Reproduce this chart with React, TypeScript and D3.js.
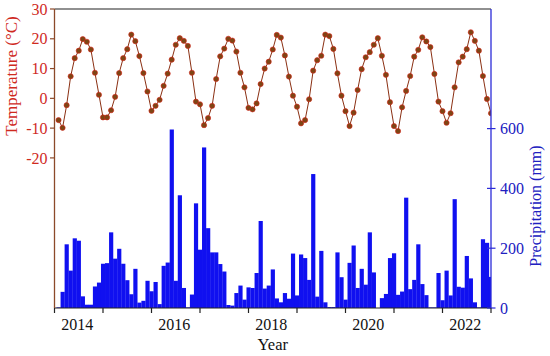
import React from "react";
import * as d3 from "d3";

// Monthly series, index 1..108 (2014–2022)
const temperature: number[] = [
  -7.3, -9.9, -2.3, 7.4, 13.5, 16, 19.9, 19, 16.4, 8.6, 1.2, -6.4,
  -6.4, -4, 0.5, 8.5, 13.5, 16.5, 21.4, 19.2, 14.2, 8.5, 2.3, -4.2,
  -2.5, -0.5, 4.2, 8.3, 13, 18, 20.2, 19.3, 17.6, 8.6, -1.1, -2,
  -9, -6.6, -2.5, 6.5, 14.1, 16.7, 20, 19.4, 15.7, 8.6, 3.7, -3.2,
  -3.7, -1.7, 4.8, 10, 12.3, 16.4, 21.3, 20.4, 14.4, 7.3, 0.9, -2.8,
  -8.4, -7.3, -0.3, 9.3, 12.8, 14.3, 21.4, 20.9, 16.6, 8.4, 0.9, -4.3,
  -9.3, -4.8, 2.8, 9.8, 13.8, 15.5, 18, 20.2, 14.3, 7.9, -1.3, -9.3,
  -11, -3, 2.5, 7.5, 14, 16.3, 20.5, 19.1, 17.2, 8.2, -1.1, -4.3,
  -8.2, -5, 3.7, 12.1, 14, 16.5, 22.2, 19.3, 16, 7.5, -0.2, -5,
];

const precipitation: number[] = [
  2, 54, 213, 125, 233, 225, 39, 11, 11, 72, 85, 148,
  150, 253, 165, 198, 148, 93, 46, 131, 18, 24, 91, 56,
  87, 13, 141, 152, 597, 91, 377, 67, 2, 45, 350, 195,
  537, 267, 186, 186, 147, 122, 10, 8, 50, 75, 28, 69,
  67, 117, 291, 65, 75, 129, 32, 19, 50, 31, 182, 42,
  179, 167, 94, 448, 38, 191, 19, 3, 3, 186, 103, 28,
  151, 209, 67, 131, 78, 253, 119, 0, 33, 47, 167, 183,
  44, 55, 369, 63, 94, 213, 80, 43, 2, 2, 117, 26,
  125, 42, 364, 71, 68, 174, 99, 19, 2, 230, 218, 104,
];

const yearTicks: number[] = [0, 12, 24, 36, 48, 60, 72, 84, 96, 108];
const yearLabels: string[] = ["2014", "2016", "2018", "2020", "2022"];
const tempTicks: number[] = [30, 20, 10, 0, -10, -20];
const precTicks: number[] = [0, 200, 400, 600];

const W = 550;
const H = 356;
const L = 54.5;
const R = 491;
const T = 9;
const B = 308;

const FONT = '"Times New Roman", "Liberation Serif", Times, serif';

export default function App() {
  const x = d3.scaleLinear().domain([0, 108]).range([L, R]);
  const yT = d3.scaleLinear().domain([-70.4, 30]).range([B, T]);
  const yP = d3.scaleLinear().domain([0, 1000]).range([B, T]);
  const bw = x(1) - x(0);

  const months = temperature.map((_, i) => i + 1);
  const line = d3
    .line<number>()
    .x((m) => x(m))
    .y((m) => yT(temperature[m - 1]));

  const textRed = "#cf2a1e";
  const axisBrown = "#8c4a2a";
  const blue = "#1010f0";
  const textBlue = "#2020c0";

  return (
    <svg
      width={W}
      height={H}
      style={{ position: "absolute", left: 0, top: 0, background: "#fff", fontFamily: FONT }}
    >
      <defs>
        <clipPath id="plot">
          <rect x={L} y={T} width={R - L} height={B - T} />
        </clipPath>
      </defs>
      <rect x={0} y={0} width={W} height={H} fill="#fff" />

      {/* precipitation bars */}
      <g clipPath="url(#plot)">
        {precipitation.map((p, i) => {
          const m = i + 1;
          return (
            <rect
              key={m}
              x={x(m) - bw / 2}
              y={yP(p)}
              width={bw + 0.15}
              height={B - yP(p)}
              fill={blue}
            />
          );
        })}
      </g>

      {/* temperature line */}
      <g clipPath="url(#plot)">
        <path d={line(months) || ""} fill="none" stroke="#8a2f12" strokeWidth={1} />
        {months.map((m) => (
          <circle
            key={m}
            cx={x(m)}
            cy={yT(temperature[m - 1])}
            r={2.6}
            fill="#7e4514"
            stroke="#d8231a"
            strokeWidth={0.6}
          />
        ))}
      </g>

      {/* frame: top, bottom */}
      <line x1={L} x2={R} y1={T} y2={T} stroke="#222" strokeWidth={1.2} />
      <line x1={L} x2={R} y1={B} y2={B} stroke="#222" strokeWidth={1.2} />

      {/* left axis */}
      <line x1={L} x2={L} y1={T} y2={B} stroke={axisBrown} strokeWidth={1.3} />
      {tempTicks.map((t) => (
        <g key={t}>
          <line x1={L - 4.5} x2={L} y1={yT(t)} y2={yT(t)} stroke={axisBrown} strokeWidth={1.2} />
          <text
            x={L - 7}
            y={yT(t)}
            dy="0.35em"
            textAnchor="end"
            fontSize={16}
            fill={textRed}
          >
            {t < 0 ? "-" + Math.abs(t) : String(t)}
          </text>
        </g>
      ))}
      <text
        transform={`translate(17, 76) rotate(-90)`}
        textAnchor="middle"
        fontSize={17}
        fill={textRed}
      >
        Temperature (°C)
      </text>

      {/* right axis */}
      <line x1={R} x2={R} y1={T} y2={B} stroke="#2c2cd8" strokeWidth={1.3} />
      {precTicks.map((p) => (
        <g key={p}>
          <line x1={R - 4} x2={R + 4.5} y1={yP(p)} y2={yP(p)} stroke="#2c2cd8" strokeWidth={1.2} />
          <text x={R + 9} y={yP(p)} dy="0.35em" textAnchor="start" fontSize={16} fill={textBlue}>
            {p}
          </text>
        </g>
      ))}
      <text
        transform={`translate(541, 206) rotate(-90)`}
        textAnchor="middle"
        fontSize={16}
        fill={textBlue}
      >
        Precipitation (mm)
      </text>

      {/* bottom axis */}
      {yearTicks.map((m) => (
        <line key={m} x1={x(m)} x2={x(m)} y1={B} y2={B + 5} stroke="#222" strokeWidth={1.2} />
      ))}
      {yearLabels.map((lab, i) => (
        <text key={lab} x={x(5.6 + 24 * i)} y={330} textAnchor="middle" fontSize={16} fill="#111">
          {lab}
        </text>
      ))}
      <text x={x(54)} y={350} textAnchor="middle" fontSize={16.5} fill="#111">
        Year
      </text>
    </svg>
  );
}
